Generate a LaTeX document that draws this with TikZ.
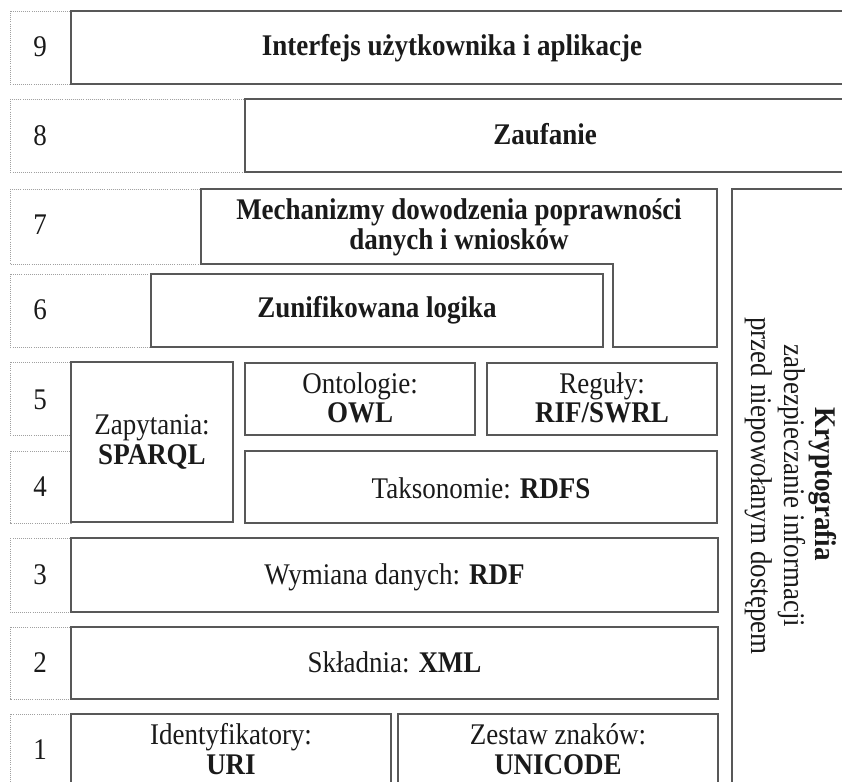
\documentclass[tikz,border=0pt]{standalone}
\usepackage{fontspec}
\setmainfont{Liberation Serif}[FakeStretch=0.9]
\definecolor{boxgray}{HTML}{585858}
\definecolor{cellgray}{HTML}{A0A0A0}
\definecolor{ink}{HTML}{1A1A1A}
\begin{document}
\begin{tikzpicture}[x=1pt,y=-1pt,
  box/.style={draw=boxgray,line width=1.1pt},
  cell/.style={draw=cellgray,line width=0.8pt,dash pattern=on 0.8pt off 1.3pt},
  lbl/.style={anchor=base,inner sep=0pt,text=ink,font=\fontsize{30}{34}\selectfont},
  vlbl/.style={lbl,rotate=-90}]
\useasboundingbox (0,0) rectangle (842,781);
\clip (0,0) rectangle (842,781);

% layer numbers: dotted cells
\draw[cell] (10,11)  rectangle (71,84);
\draw[cell] (10,99)  rectangle (245,172);
\draw[cell] (10,189) rectangle (201,264);
\draw[cell] (10,274) rectangle (151,347);
\draw[cell] (10,362) rectangle (71,435);
\draw[cell] (10,451) rectangle (71,523);
\draw[cell] (10,538) rectangle (71,612);
\draw[cell] (10,627) rectangle (71,699);
\draw[cell] (10,714) rectangle (71,800);

\node[lbl] (n9) at (40,57)  {9};
\node[lbl] (n8) at (40,145) {8};
\node[lbl] (n7) at (40,234) {7};
\node[lbl] (n6) at (40,319) {6};
\node[lbl] (n5) at (40,409) {5};
\node[lbl] (n4) at (40,496) {4};
\node[lbl] (n3) at (40,584) {3};
\node[lbl] (n2) at (40,672) {2};
\node[lbl] (n1) at (40,759) {1};

% layer boxes
\draw[box] (71,11) rectangle (860,84);
\draw[box] (245,99) rectangle (860,172);
\draw[box] (201,189) -- (717,189) -- (717,347) -- (613,347) -- (613,264) -- (201,264) -- cycle;
\draw[box] (151,274) rectangle (603,347);
\draw[box] (71,362) rectangle (233,522);
\draw[box] (245,363) rectangle (475,435);
\draw[box] (487,363) rectangle (717,435);
\draw[box] (245,451) rectangle (717,523);
\draw[box] (71,538) rectangle (718,612);
\draw[box] (71,627) rectangle (718,699);
\draw[box] (71,714) rectangle (391,800);
\draw[box] (398,714) rectangle (718,800);
\draw[box] (732,189) rectangle (860,800);

% labels
\node[lbl] (t9) at (452,56) {\textbf{Interfejs użytkownika i aplikacje}};
\node[lbl] (t8) at (545,144) {\textbf{Zaufanie}};
\node[lbl] (t7a) at (459,219) {\textbf{Mechanizmy dowodzenia poprawności}};
\node[lbl] (t7b) at (459,249) {\textbf{danych i wniosków}};
\node[lbl] (t6) at (377,317) {\textbf{Zunifikowana logika}};
\node[lbl] (tqa) at (152,434) {Zapytania:};
\node[lbl] (tqb) at (152,464) {\textbf{SPARQL}};
\node[lbl] (toa) at (360,393) {Ontologie:};
\node[lbl] (tob) at (360,422) {\textbf{OWL}};
\node[lbl] (tra) at (602,393) {Reguły:};
\node[lbl] (trb) at (602,422) {\textbf{RIF/SWRL}};
\node[lbl] (t4) at (481,498) {Taksonomie: \textbf{RDFS}};
\node[lbl] (t3) at (394.5,584) {Wymiana danych: \textbf{RDF}};
\node[lbl] (t2) at (394.5,672) {Składnia: \textbf{XML}};
\node[lbl] (tia) at (231,744) {Identyfikatory:};
\node[lbl] (tib) at (231,774) {\textbf{URI}};
\node[lbl] (tza) at (558,744) {Zestaw znaków:};
\node[lbl] (tzb) at (558,774) {\textbf{UNICODE}};

% vertical security column
\node[vlbl] (ka) at (815,484) {\textbf{Kryptografia}};
\node[vlbl] (kb) at (784,486) {zabezpieczanie informacji};
\node[vlbl] (kc) at (751,486) {przed niepowołanym dostępem};
\end{tikzpicture}
\end{document}
